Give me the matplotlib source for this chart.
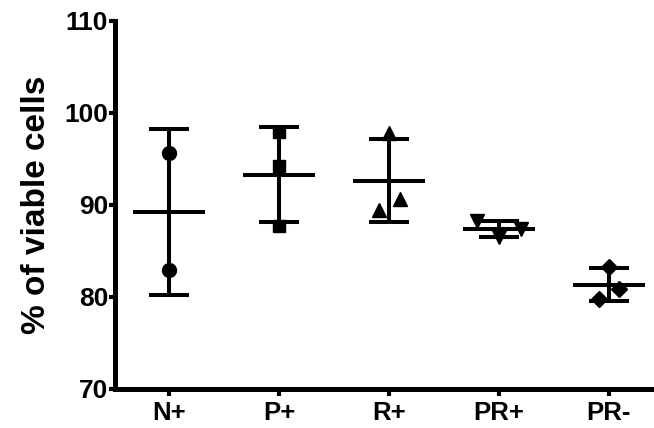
import numpy as np
import matplotlib
matplotlib.use("Agg")
import matplotlib.pyplot as plt

categories = ["N+", "P+", "R+", "PR+", "PR-"]
n_plus = [95.6, 82.9]
p_plus = [97.9, 94.2, 87.7]
r_plus = [97.8, 89.5, 90.6]
pr_plus = [88.3, 86.5, 87.4]
pr_minus = [83.3, 80.9, 79.8]
groups = [n_plus, p_plus, r_plus, pr_plus, pr_minus]
offsets = [[0, 0], [0, 0, 0], [0, -0.09, 0.1], [-0.2, 0.0, 0.2], [0, 0.09, -0.09]]
markers = ["o", "s", "^", "v", "D"]
msizes = [10, 9, 10, 10, 8]
yticks = [70, 80, 90, 100, 110]

plt.rcParams['font.family'] = ['Liberation Sans', 'DejaVu Sans']
fig = plt.figure(figsize=(6.54, 4.28), dpi=100)
ax = fig.add_axes([115/654, 39/428, 539/654, 368/428])

lw = 2.9
for i, vals in enumerate(groups):
    vals = np.array(vals)
    m = vals.mean()
    sd = vals.std(ddof=1)
    ax.errorbar(i, m, yerr=sd, fmt='none', ecolor='black', elinewidth=lw,
                capsize=14.5, capthick=lw, zorder=2)
    ax.hlines(m, i - 0.33, i + 0.33, color='black', lw=lw, zorder=2)
    xs = i + np.array(offsets[i])
    ax.plot(xs, vals, linestyle='none', marker=markers[i], markersize=msizes[i],
            color='black', zorder=3)

ax.set_xlim(-0.49, 4.41)
ax.set_ylim(70, 110)
ax.set_yticks(yticks)
ax.set_xticks(range(len(categories)))
ax.set_xticklabels(categories)
for s in ['top', 'right']:
    ax.spines[s].set_visible(False)
for s in ['left', 'bottom']:
    ax.spines[s].set_linewidth(3.6)
    ax.spines[s].set_capstyle('projecting')
ax.tick_params(axis='y', length=4, width=3, labelsize=19, pad=1)
ax.tick_params(axis='x', length=5, width=3, labelsize=18.5, pad=4)
for lab in ax.get_xticklabels() + ax.get_yticklabels():
    lab.set_fontweight('bold')
ax.set_ylabel("% of viable cells", fontsize=24, fontweight='bold', labelpad=9)

fig.savefig("out.png", dpi=100)
